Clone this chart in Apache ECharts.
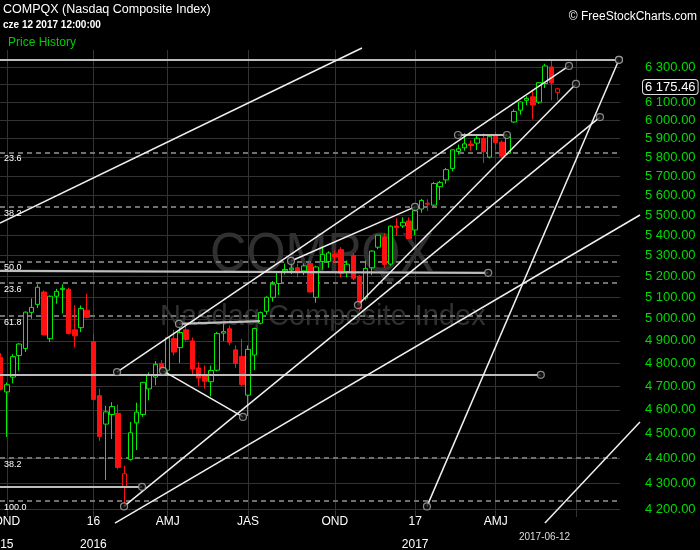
<!DOCTYPE html>
<html><head><meta charset="utf-8">
<script src="https://cdn.jsdelivr.net/npm/echarts@6.0.0/dist/echarts.min.js"></script>
<style>html,body{margin:0;padding:0;background:#000;}#chart{width:700px;height:550px;}</style>
</head><body><div id="chart"></div>
<script>
// ---- weekly bars (week start dates) ----
const weeks = [
'2015-09-21','2015-09-28','2015-10-05','2015-10-12','2015-10-19','2015-10-26','2015-11-02','2015-11-09','2015-11-16','2015-11-23',
'2015-11-30','2015-12-07','2015-12-14','2015-12-21','2015-12-28','2016-01-04','2016-01-11','2016-01-18','2016-01-25','2016-02-01',
'2016-02-08','2016-02-15','2016-02-22','2016-02-29','2016-03-07','2016-03-14','2016-03-21','2016-03-28','2016-04-04','2016-04-11',
'2016-04-18','2016-04-25','2016-05-02','2016-05-09','2016-05-16','2016-05-23','2016-05-30','2016-06-06','2016-06-13','2016-06-20',
'2016-06-27','2016-07-04','2016-07-11','2016-07-18','2016-07-25','2016-08-01','2016-08-08','2016-08-15','2016-08-22','2016-08-29',
'2016-09-05','2016-09-12','2016-09-19','2016-09-26','2016-10-03','2016-10-10','2016-10-17','2016-10-24','2016-10-31','2016-11-07',
'2016-11-14','2016-11-21','2016-11-28','2016-12-05','2016-12-12','2016-12-19','2016-12-26','2017-01-02','2017-01-09','2017-01-16',
'2017-01-23','2017-01-30','2017-02-06','2017-02-13','2017-02-20','2017-02-27','2017-03-06','2017-03-13','2017-03-20','2017-03-27',
'2017-04-03','2017-04-10','2017-04-17','2017-04-24','2017-05-01','2017-05-08','2017-05-15','2017-05-22','2017-05-29','2017-06-05',
'2017-06-12'];
const opens = [
4827,4676,4740,4835,4866,5030,5067,5125,4910,5105,
5136,5137,4950,4960,5040,4897,4660,4540,4580,4585,
4283,4395,4545,4580,4689,4740,4800,4770,4910,4870,
4950,4900,4780,4752,4720,4770,4935,4955,4860,4830,
4662,4837,4980,5035,5100,5165,5225,5230,5240,5225,
5260,5100,5270,5270,5305,5328,5220,5300,5200,5096,
5240,5340,5390,5258,5445,5445,5470,5425,5530,5560,
5550,5645,5680,5740,5830,5850,5870,5875,5900,5800,
5912,5880,5820,5990,6055,6110,6130,6100,6205,6300,
6155];
const closes = [
4686,4707,4830,4886,5031,5053,5147,4927,5105,5128,
5142,4933,4923,5048,5007,4644,4489,4591,4614,4363,
4338,4504,4590,4717,4748,4796,4773,4914,4850,4938,
4906,4775,4736,4722,4769,4933,4942,4894,4800,4708,
4862,4956,5029,5100,5162,5221,5232,5238,5218,5249,
5125,5244,5305,5312,5292,5214,5257,5190,5046,5237,
5321,5399,5256,5444,5437,5463,5383,5521,5574,5555,
5661,5667,5734,5839,5845,5871,5862,5901,5829,5912,
5878,5805,5910,6048,6101,6121,6084,6210,6306,6208,
6175.46];
const lows = [
4683,4487,4713,4768,4850,5000,5050,4925,4895,5070,
5025,4930,4871,4940,5003,4641,4471,4313,4478,4355,
4210,4390,4433,4570,4640,4705,4757,4756,4835,4802,
4900,4750,4700,4690,4657,4765,4900,4880,4780,4700,
4574,4770,4975,5020,5080,5111,5208,5210,5195,5205,
5123,5075,5230,5240,5265,5193,5195,5180,5034,5085,
5205,5330,5240,5250,5395,5435,5380,5400,5512,5520,
5545,5576,5660,5725,5813,5835,5835,5838,5769,5793,
5838,5795,5812,5985,6030,6083,6004,6090,6180,6110,
6110];
const highs = [
4845,4717,4841,4890,5034,5095,5161,5133,5108,5140,
5161,5145,5063,5062,5116,4930,4690,4617,4632,4622,
4370,4549,4630,4718,4760,4810,4815,4917,4950,4960,
4970,4915,4805,4790,4790,4940,4978,4970,4880,4910,
4880,4960,5034,5105,5177,5224,5260,5262,5260,5260,
5275,5250,5342,5320,5324,5340,5275,5310,5205,5275,
5325,5400,5410,5447,5484,5488,5488,5536,5582,5580,
5670,5675,5743,5840,5867,5929,5890,5920,5928,5915,
5935,5890,5918,6060,6103,6133,6170,6212,6318,6342,
6180];

// ---- axis ticks ----
const yTicks = [4200,4300,4400,4500,4600,4700,4800,4900,5000,5100,5200,5300,5400,5500,5600,5700,5800,5900,6000,6100,6200,6300];
const quarterIdx = [1, 15, 27, 40, 54, 67, 80, 93];
const quarterTop = ['OND','16','AMJ','JAS','OND','17','AMJ',''];
const quarterBottom = ['15','2016','','','','2017','',''];

// ---- Fibonacci retracement tools (anchor prices and levels) ----
const fibHigh = 6341.7;
const fibLowA = 4209.76;
const fibLowB = 1265.52;
const fibLevelsA = [23.6, 38.2, 50.0, 61.8, 100.0];
const fibLevelsB = [23.6, 38.2];

// ---- drawn trend lines: [weekIndex1, price1, weekIndex2, price2] ----
const levelLines = [
  [-0.1, 6341.7, 99.93, 6341.7],
  [-0.1, 5225, 78.8, 5216],
  [-0.1, 4750, 87.3, 4750],
  [-0.1, 4286, 22.85, 4286],
  [28.83, 4977, 41.92, 4990],
  [73.92, 5919, 81.83, 5919]
];
const levelAnchors = [[0,1],[0,1],[0,1],[0,1],[1,0],[1,1]];
const trendLines = [
  [-0.1, 5460, 58.4, 6411],
  [18.81, 4762, 91.85, 6306],
  [46.93, 5273, 66.97, 5541],
  [26.24, 4767, 39.17, 4570],
  [57.75, 5064, 92.98, 6203],
  [19.94, 4209.76, 96.86, 6017],
  [18.48, 4146, 103.33, 5500],
  [68.9, 4209.76, 99.93, 6341.7],
  [87.97, 4146, 103.33, 4549]
];
const trendAnchors = [[0,0],[1,1],[1,1],[1,1],[1,1],[1,1],[0,0],[1,1],[0,0]];

// ---- helpers ----
const L = Math.log;
function fmt(v){
  const s = v.toFixed(2); const p = s.split('.');
  return p[0].replace(/\B(?=(\d{3})+(?!\d))/g, ' ') + '.' + p[1];
}
const GREEN = '#00ee00', RED = '#ff1010';
const candleData = opens.map((o, i) => {
  const c = closes[i];
  const prev = i > 0 ? closes[i-1] : o;
  const col = c >= prev ? GREEN : RED;
  const fill = c >= o ? '#000' : col;
  return { value: [i, L(o), L(c), L(lows[i]), L(highs[i])],
    itemStyle: { color: fill, color0: fill, borderColor: col, borderColor0: col } };
});
function toCoords(arr){ return arr.map(s => ({ coords: [[s[0], L(s[1])], [s[2], L(s[3])]] })); }
const anchors = [];
[[levelLines, levelAnchors],[trendLines, trendAnchors]].forEach(([lines, fl]) => {
  lines.forEach((s, i) => {
    if (fl[i][0]) anchors.push([s[0], L(s[1])]);
    if (fl[i][1]) anchors.push([s[2], L(s[3])]);
  });
});
const fibMarks = [];
fibLevelsA.forEach(p => fibMarks.push({ name: p.toFixed(1), yAxis: L(fibHigh - p/100*(fibHigh - fibLowA)) }));
fibLevelsB.forEach(p => fibMarks.push({ name: p.toFixed(1), yAxis: L(fibHigh - p/100*(fibHigh - fibLowB)) }));
const lastIdx = weeks.length - 1;
const FONT = 'Liberation Sans';

const chart = echarts.init(document.getElementById('chart'), null, {renderer: 'canvas'});
chart.setOption({
  backgroundColor: '#000',
  animation: false,
  grid: { left: 0, right: 80, top: 50, bottom: 33, containLabel: false, outerBoundsMode: 'none' },
  graphic: [
    { type: 'text', x: 3, y: 3, z: 10, style: { text: 'COMPQX (Nasdaq Composite Index)', fill: '#fff', font: '12.5px ' + FONT } },
    { type: 'text', x: 3, y: 20, z: 10, style: { text: 'cze 12 2017 12:00:00', fill: '#fff', font: 'bold 10px ' + FONT } },
    { type: 'text', x: 8, y: 37, z: 10, style: { text: 'Price History', fill: '#00cc00', font: '12px ' + FONT } },
    { type: 'text', x: 697, y: 11, z: 10, style: { text: '\u00a9 FreeStockCharts.com', fill: '#fff', font: '12px ' + FONT, align: 'right' } },
    { type: 'text', x: 210, y: 228, z: -1, scaleX: 0.9, style: { text: 'COMPQX', fill: '#303030', font: '56px ' + FONT } },
    { type: 'text', x: 160, y: 302, z: -1, style: { text: 'Nasdaq Composite Index', fill: '#303030', font: '29px ' + FONT } }
  ],
  xAxis: {
    type: 'value', min: -0.1, max: 100.1,
    axisLine: { show: false },
    axisTick: { show: false, customValues: quarterIdx },
    splitLine: { show: true, lineStyle: { color: '#333', width: 1 } },
    axisLabel: {
      customValues: quarterIdx.slice(0, 7).concat([lastIdx]),
      margin: 0,
      formatter: v => {
        if (v === lastIdx) return '{c|' + weeks[lastIdx] + '}';
        const k = quarterIdx.indexOf(v);
        return '{a|' + quarterTop[k] + '}' + (quarterBottom[k] ? '\n{b|' + quarterBottom[k] + '}' : '');
      },
      rich: {
        a: { color: '#fff', fontSize: 12, fontFamily: FONT, lineHeight: 10 },
        b: { color: '#fff', fontSize: 12, fontFamily: FONT, lineHeight: 36 },
        c: { color: '#ddd', fontSize: 10, fontFamily: FONT, lineHeight: 40, padding: [0, 26, 0, 0] }
      }
    }
  },
  yAxis: {
    type: 'value', position: 'right', min: L(4169), max: L(6399),
    axisLine: { show: false },
    axisTick: { show: false, customValues: yTicks.map(L) },
    splitLine: { show: true, lineStyle: { color: '#333', width: 1 } },
    axisLabel: {
      customValues: yTicks.map(L), margin: 25, align: 'left',
      color: '#00dc00', fontSize: 13, fontFamily: FONT,
      formatter: v => fmt(Math.round(Math.exp(v)))
    }
  },
  series: [
    {
      type: 'candlestick', name: 'COMPQX', z: 3,
      data: candleData, encode: { x: 0, y: [1, 2, 3, 4] },
      barWidth: 5, itemStyle: { borderWidth: 1 },
      markLine: {
        silent: true, symbol: 'none', z: 20,
        lineStyle: { color: 'rgba(0,0,0,0)', width: 0 },
        data: [{ yAxis: L(closes[lastIdx]) }],
        label: { show: true, position: 'end', distance: 23, formatter: () => fmt(closes[lastIdx]),
          color: '#fff', fontSize: 13, fontFamily: FONT, backgroundColor: '#000',
          borderColor: '#ddd', borderWidth: 1, borderRadius: 3, padding: [1, 2, 0, 2] }
      }
    },
    {
      type: 'lines', coordinateSystem: 'cartesian2d', z: 4, clip: false, silent: true,
      lineStyle: { color: '#bdbdbd', width: 2.2, opacity: 1 },
      data: toCoords(levelLines)
    },
    {
      type: 'lines', coordinateSystem: 'cartesian2d', z: 4, clip: false, silent: true,
      lineStyle: { color: '#f0f0f0', width: 1.5, opacity: 1 },
      data: toCoords(trendLines)
    },
    {
      type: 'scatter', z: 5, clip: false, silent: true,
      symbol: 'circle', symbolSize: 7,
      itemStyle: { color: '#111', borderColor: '#aaa', borderWidth: 1.2 },
      data: anchors,
      markLine: {
        silent: true, symbol: 'none', z: 1,
        lineStyle: { color: '#707070', width: 2, type: [5, 4] },
        label: { position: 'insideStartBottom', formatter: '{b}', color: '#fff', fontSize: 9, fontFamily: FONT, distance: [4, 2] },
        data: fibMarks
      }
    }
  ]
});
</script></body></html>
